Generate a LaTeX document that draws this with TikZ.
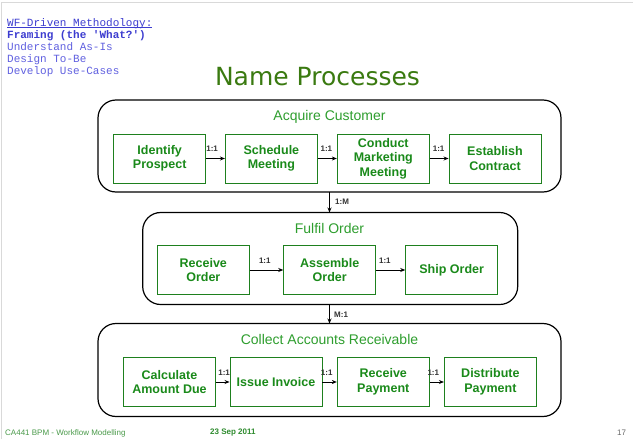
\documentclass[tikz,border=0pt]{standalone}
\usepackage{fontspec}
\setmainfont{Liberation Sans}
\newfontfamily\verd{DejaVu Sans}
\newfontfamily\cour{Liberation Mono}
\usetikzlibrary{arrows.meta}
\definecolor{procgreen}{HTML}{1E801E}
\definecolor{proctext}{HTML}{1A8A1A}
\definecolor{grptext}{HTML}{2E9E2E}
\definecolor{titlegreen}{HTML}{3A7A10}
\definecolor{footgreen}{HTML}{4A9A4A}
\definecolor{datgreen}{HTML}{2E8B2E}
\definecolor{navblue}{HTML}{3C3CD0}
\definecolor{navlight}{HTML}{6060E0}
\definecolor{lblgray}{HTML}{333333}
\newcommand{\myuline}[1]{{\setbox0\hbox{#1}\rlap{\rule[-1.6pt]{\wd0}{0.6pt}}\box0}}
\begin{document}
\begin{tikzpicture}[x=1pt,y=-1pt,
  grp/.style={draw=black, line width=1.2pt, rounded corners=18pt, inner sep=0pt},
  proc/.style={draw=procgreen, line width=0.9pt, text=proctext, align=center,
    font=\bfseries\fontsize{12.5}{14.5}\selectfont, inner sep=0pt,
    minimum width=92pt, minimum height=49pt},
  grptitle/.style={text=grptext, font=\fontsize{14}{16}\selectfont, inner sep=0pt},
  arr/.style={draw=black, line width=0.9pt, -{Stealth[length=5pt,width=4pt]}},
  lbl/.style={font=\bfseries\fontsize{8}{9}\selectfont, text=lblgray, inner sep=0pt, yshift=9.5pt},
  vlbl/.style={font=\bfseries\fontsize{8}{9}\selectfont, text=lblgray, inner sep=0pt, anchor=west},
  navtext/.style={font=\cour\fontsize{11}{12.2}\selectfont, align=left, anchor=north west, inner sep=0pt},
  foot/.style={font=\fontsize{8}{9}\selectfont, inner sep=0pt}
]
\useasboundingbox (0,0) rectangle (633,439);
\fill[white] (0,0) rectangle (633,439);
% slide frame
\draw[color=black!15, line width=1.2pt] (1.2,439) -- (1.2,2.6) -- (633,2.6);

% navigation text
\node[navtext] (nav) at (7,18) {%
  \textcolor{navblue}{\myuline{WF-Driven Methodology:}}\\
  \textcolor{navblue}{\bfseries Framing (the 'What?')}\\
  \textcolor{navlight}{Understand As-Is}\\
  \textcolor{navlight}{Design To-Be}\\
  \textcolor{navlight}{Develop Use-Cases}};

% title
\node[text=titlegreen, font=\verd\fontsize{25}{28}\selectfont, inner sep=0pt] (title) at (317.5,77) {Name Processes};

% group boxes
\node[grp, minimum width=463pt, minimum height=92pt] (g1) at (329.5,146) {};
\node[grp, minimum width=375pt, minimum height=92pt] (g2) at (330.2,258.5) {};
\node[grp, minimum width=463pt, minimum height=93pt] (g3) at (329.5,370) {};

\node[grptitle] (t1) at (329.5,116.5) {Acquire Customer};
\node[grptitle] (t2) at (329.5,228) {Fulfil Order};
\node[grptitle] (t3) at (329.5,339.5) {Collect Accounts Receivable};

% Acquire Customer
\node[proc] (ip) at (159.7,158.5) {Identify\\Prospect};
\node[proc] (sm) at (271.4,158.5) {Schedule\\Meeting};
\node[proc] (cm) at (383.3,158.5) {Conduct\\Marketing\\Meeting};
\node[proc] (ec) at (495,158.5) {Establish\\Contract};

% Fulfil Order
\node[proc] (ro) at (203.3,270) {Receive\\Order};
\node[proc] (ao) at (329.7,270) {Assemble\\Order};
\node[proc] (so) at (451.7,270) {Ship Order};

% Collect Accounts Receivable
\node[proc] (ca) at (169.5,382) {Calculate\\Amount Due};
\node[proc] (ii) at (276,382) {Issue Invoice};
\node[proc] (rp) at (383.3,382) {Receive\\Payment};
\node[proc] (dp) at (490.4,382) {Distribute\\Payment};

% horizontal connectors
\draw[arr] (ip) -- node[lbl, pos=0.32] {1:1} (sm);
\draw[arr] (sm) -- node[lbl, pos=0.45] {1:1} (cm);
\draw[arr] (cm) -- node[lbl, pos=0.47] {1:1} (ec);
\draw[arr] (ro) -- node[lbl, pos=0.45] {1:1} (ao);
\draw[arr] (ao) -- node[lbl, pos=0.3] {1:1} (so);
\draw[arr] (ca) -- node[lbl, pos=0.6] {1:1} (ii);
\draw[arr] (ii) -- node[lbl, pos=0.3] {1:1} (rp);
\draw[arr] (rp) -- node[lbl, pos=0.25] {1:1} (dp);

% vertical connectors
\coordinate (v1) at (329.5,192);
\coordinate (v2) at (329.5,212.5);
\coordinate (v3) at (329.5,304.5);
\coordinate (v4) at (329.5,323.5);
\draw[arr] (v1) -- (v2);
\draw[arr] (v3) -- (v4);
\node[vlbl] (m1) at (335,201.5) {1:M};
\node[vlbl] (m2) at (334,315) {M:1};

% footer
\node[foot, text=footgreen, anchor=west] (f1) at (5,433) {CA441 BPM - Workflow Modelling};
\node[foot, text=datgreen, anchor=west, font=\bfseries\fontsize{8}{9}\selectfont] (f2) at (210,433) {23 Sep 2011};
\node[foot, text=black!60, anchor=west] (f3) at (617,433) {17};
\end{tikzpicture}
\end{document}
